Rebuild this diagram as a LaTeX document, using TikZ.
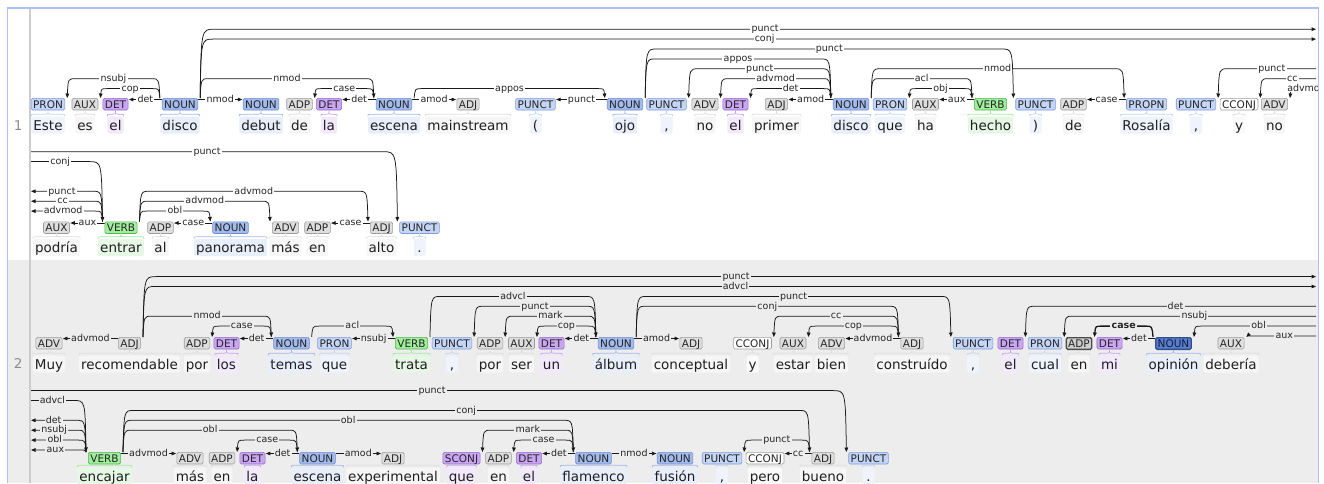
\documentclass[tikz,border=0pt]{standalone}
\usepackage{fontspec}
\setmainfont{DejaVu Sans}
\usetikzlibrary{arrows.meta,calc}
\pgfdeclarelayer{bg}\pgfdeclarelayer{arcs}
\pgfsetlayers{bg,arcs,main}

% tag palette: fill, border, light span tint
\definecolor{nounF}{HTML}{A2BAEC}\definecolor{nounD}{HTML}{6E8ED0}\definecolor{nounL}{HTML}{E8EEFA}
\definecolor{pronF}{HTML}{C4D5F6}\definecolor{pronD}{HTML}{7E9CDB}\definecolor{pronL}{HTML}{EEF3FC}
\definecolor{verbF}{HTML}{A0EE9C}\definecolor{verbD}{HTML}{52B452}\definecolor{verbL}{HTML}{E6F7E6}
\definecolor{detF}{HTML}{CAA6F2}\definecolor{detD}{HTML}{9468CC}\definecolor{detL}{HTML}{F2EAFC}
\definecolor{greyF}{HTML}{DEDEDE}\definecolor{greyD}{HTML}{9C9C9C}\definecolor{greyL}{HTML}{F6F6F6}
\definecolor{ccF}{HTML}{FFFFFF}\definecolor{ccD}{HTML}{9C9C9C}\definecolor{ccL}{HTML}{FAFAFA}
\definecolor{hlnF}{HTML}{5C7EC8}\definecolor{hlnD}{HTML}{2E4E94}\definecolor{hlnT}{HTML}{0E1E46}
\definecolor{hlgF}{HTML}{CDCDCD}\definecolor{hlgD}{HTML}{4C4C4C}
\definecolor{sgrey}{HTML}{EDEDED}
\definecolor{frameblue}{HTML}{A9C3F2}
\definecolor{numgrey}{HTML}{8C8C8C}

\newcommand\tagfont{\fontsize{10.5}{12}\selectfont}
\newcommand\wordfont{\fontsize{13.5}{16}\selectfont}
\newcommand\labfont{\fontsize{9.5}{11}\selectfont}
\def\labbg{white}
\def\redge{1316pt}
\def\ledge{31pt}

\tikzset{
  tag/.style={draw, rounded corners=1.5pt, font=\tagfont, inner xsep=2pt, inner ysep=2pt,
    text height=7.7pt, text depth=0pt, line width=0.6pt, text=black!85},
  word/.style={font=\wordfont, text height=13pt, text depth=3pt, inner xsep=2pt, inner ysep=0.5pt,
    rounded corners=2pt, minimum width=12pt, text=black!88},
  brk/.style={line width=0.7pt},
  lab/.style={font=\labfont, fill=\labbg, inner xsep=1.2pt, inner ysep=0.8pt,
    text height=5.5pt, text depth=0pt, text=black!85},
  deparc/.style={line width=0.75pt, draw=black!90, -{Triangle[length=4.5pt,width=3.6pt]}},
  hlarc/.style={line width=1.3pt},
  noun/.style={fill=nounF, draw=nounD}, nounw/.style={fill=nounL}, nounb/.style={draw=nounF},
  pron/.style={fill=pronF, draw=pronD}, pronw/.style={fill=pronL}, pronb/.style={draw=pronF},
  verb/.style={fill=verbF, draw=verbD}, verbw/.style={fill=verbL}, verbb/.style={draw=verbF},
  det/.style={fill=detF, draw=detD}, detw/.style={fill=detL}, detb/.style={draw=detF},
  grey/.style={fill=greyF, draw=greyD}, greyw/.style={fill=greyL}, greyb/.style={draw=greyF},
  cconj/.style={fill=ccF, draw=ccD}, cconjw/.style={fill=ccL}, cconjb/.style={draw=greyF},
  hlgrey/.style={fill=hlgF, draw=hlgD, line width=1.3pt}, hlgreyw/.style={fill=greyL}, hlgreyb/.style={draw=greyF},
  hlnoun/.style={fill=hlnF, draw=hlnD, line width=1.3pt, text=hlnT},
  hlnounw/.style={fill=nounL}, hlnounb/.style={draw=nounF},
}

% row geometry: tag top and word baseline
\def\rta{98}\def\rba{130}
\def\rtb{221.5}\def\rbb{252.5}
\def\rtc{337}\def\rbc{369}
\def\rtd{452}\def\rbd{481}

% token: name, x, row, style, tag, word
\newcommand\tok[6]{%
  \node[tag,#4,anchor=north] (#1) at (#2,-\csname rt#3\endcsname) {#5};
  \node[word,#4w,anchor=base] (#1w) at (#2,-\csname rb#3\endcsname) {#6};
  \draw[brk,#4b] let \p1=(#1w.north west), \p2=(#1w.north east), \p3=(#1.south) in
    (\x1,\y1) .. controls (\x1,\y1+2pt) .. (\x1+3pt,\y1+2pt) -- (\x3-3pt,\y1+2pt)
    .. controls (\x3,\y1+2pt) .. (\x3,\y3) .. controls (\x3,\y1+2pt) .. (\x3+3pt,\y1+2pt)
    -- (\x2-3pt,\y1+2pt) .. controls (\x2,\y1+2pt) .. (\x2,\y1);
}

% dependency arcs; \LZ is the base level of the current row
% dependent to the left of the head
\newcommand\depL[5][]{%
  \draw[deparc,#1] let \p1=(#2.north west), \p2=(#3.north east), \n1={\LZ-9.9*#4},
    \n2={6+0.12*(abs(\y1)-\n1)} in
    (\x1-2pt,\y1) .. controls (\x1-3pt,-\n1*1pt) .. (\x1-2pt-\n2*1pt,-\n1*1pt)
    -- node[lab]{#5} (\x2+2pt+\n2*1pt,-\n1*1pt) .. controls (\x2+3pt,-\n1*1pt) .. (\x2+2pt,\y2);
}
% dependent to the right of the head
\newcommand\depR[5][]{%
  \draw[deparc,#1] let \p1=(#2.north east), \p2=(#3.north west), \n1={\LZ-9.9*#4},
    \n2={6+0.12*(abs(\y1)-\n1)} in
    (\x1+2pt,\y1) .. controls (\x1+3pt,-\n1*1pt) .. (\x1+2pt+\n2*1pt,-\n1*1pt)
    -- node[lab]{#5} (\x2-2pt-\n2*1pt,-\n1*1pt) .. controls (\x2-3pt,-\n1*1pt) .. (\x2-2pt,\y2);
}
% lowest level, straight
\newcommand\zeroL[3]{%
  \draw[deparc] ($(#1.north west)+(0,-1.5pt)$) -- node[lab]{#3} ($(#2.north east)+(0.5pt,-1.5pt)$);
}
\newcommand\zeroR[3]{%
  \draw[deparc] ($(#1.north east)+(0,-1.5pt)$) -- node[lab]{#3} ($(#2.north west)+(-0.5pt,-1.5pt)$);
}
% arcs that continue on another row
\newcommand\crossR[3]{% head, level, label: runs off to the right
  \draw[deparc] let \p1=(#1.north east), \n1={\LZ-9.9*#2}, \n2={6+0.12*(abs(\y1)-\n1)} in
    (\x1+2pt,\y1) .. controls (\x1+3pt,-\n1*1pt) .. (\x1+2pt+\n2*1pt,-\n1*1pt)
    -- node[lab]{#3} (\redge,-\n1*1pt);
}
\newcommand\crossOutL[3]{% head, level, label: runs off to the left
  \draw[deparc] let \p1=(#1.north west), \n1={\LZ-9.9*#2}, \n2={6+0.12*(abs(\y1)-\n1)} in
    (\x1-2pt,\y1) .. controls (\x1-3pt,-\n1*1pt) .. (\x1-2pt-\n2*1pt,-\n1*1pt)
    -- node[lab]{#3} (\ledge,-\n1*1pt);
}
\newcommand\crossInR[3]{% dependent, level, label: comes in from the left
  \draw[deparc] let \p2=(#1.north west), \n1={\LZ-9.9*#2}, \n2={6+0.12*(abs(\y2)-\n1)} in
    (\ledge,-\n1*1pt) -- node[lab]{#3} (\x2-2pt-\n2*1pt,-\n1*1pt)
    .. controls (\x2-3pt,-\n1*1pt) .. (\x2-2pt,\y2);
}
\newcommand\crossInL[3]{% dependent, level, label: comes in from the right
  \draw[deparc] let \p2=(#1.north east), \n1={\LZ-9.9*#2}, \n2={6+0.12*(abs(\y2)-\n1)} in
    (\redge,-\n1*1pt) -- node[lab]{#3} (\x2+2pt+\n2*1pt,-\n1*1pt)
    .. controls (\x2+3pt,-\n1*1pt) .. (\x2+2pt,\y2);
}

\begin{document}
\begin{tikzpicture}[x=1pt,y=1pt]
\useasboundingbox (0,0) rectangle (1324,-483);

\begin{pgfonlayer}{bg}
  \fill[white] (0,0) rectangle (1324,-483);
  \fill[sgrey] (8,-260) rectangle (1318,-483);
  \draw[black!20, line width=1.5pt] (30,-8) -- (30,-483);
  \draw[frameblue, line width=1.5pt] (7.5,-483) -- (7.5,-8) -- (1318.5,-8) -- (1318.5,-483);
  \node[font=\wordfont, text=numgrey, anchor=base east] (n1) at (26,-130) {1};
  \node[font=\wordfont, text=numgrey, anchor=base east] (n2) at (26,-368.5) {2};
\end{pgfonlayer}

% sentence 1, first row
\tok{a1}{48}{a}{pron}{PRON}{Este}
\tok{a2}{85}{a}{grey}{AUX}{es}
\tok{a3}{115.5}{a}{det}{DET}{el}
\tok{a4}{180}{a}{noun}{NOUN}{disco}
\tok{a5}{261}{a}{noun}{NOUN}{debut}
\tok{a6}{299.5}{a}{grey}{ADP}{de}
\tok{a7}{329}{a}{det}{DET}{la}
\tok{a8}{394}{a}{noun}{NOUN}{escena}
\tok{a9}{468}{a}{grey}{ADJ}{mainstream}
\tok{a10}{535.5}{a}{pron}{PUNCT}{(}
\tok{a11}{625}{a}{noun}{NOUN}{ojo}
\tok{a12}{666.5}{a}{pron}{PUNCT}{,}
\tok{a13}{705}{a}{grey}{ADV}{no}
\tok{a14}{735.5}{a}{det}{DET}{el}
\tok{a15}{776.5}{a}{grey}{ADJ}{primer}
\tok{a16}{851}{a}{noun}{NOUN}{disco}
\tok{a17}{890}{a}{pron}{PRON}{que}
\tok{a18}{925.5}{a}{grey}{AUX}{ha}
\tok{a19}{990.5}{a}{verb}{VERB}{hecho}
\tok{a20}{1035.5}{a}{pron}{PUNCT}{)}
\tok{a21}{1073.5}{a}{grey}{ADP}{de}
\tok{a22}{1146.5}{a}{pron}{PROPN}{Rosalía}
\tok{a23}{1196}{a}{pron}{PUNCT}{,}
\tok{a24}{1239}{a}{cconj}{CCONJ}{y}
\tok{a25}{1274.5}{a}{grey}{ADV}{no}

% sentence 1, second row
\tok{b1}{56.5}{b}{grey}{AUX}{podría}
\tok{b2}{121}{b}{verb}{VERB}{entrar}
\tok{b3}{160.5}{b}{grey}{ADP}{al}
\tok{b4}{230.5}{b}{noun}{NOUN}{panorama}
\tok{b5}{285.5}{b}{grey}{ADV}{más}
\tok{b6}{317.5}{b}{grey}{ADP}{en}
\tok{b7}{381.5}{b}{grey}{ADJ}{alto}
\tok{b8}{419.5}{b}{pron}{PUNCT}{.}

% sentence 2, first row
\tok{c1}{49}{c}{grey}{ADV}{Muy}
\tok{c2}{129.5}{c}{grey}{ADJ}{recomendable}
\tok{c3}{197}{c}{grey}{ADP}{por}
\tok{c4}{226.5}{c}{det}{DET}{los}
\tok{c5}{291.5}{c}{noun}{NOUN}{temas}
\tok{c6}{334.5}{c}{pron}{PRON}{que}
\tok{c7}{411.5}{c}{verb}{VERB}{trata}
\tok{c8}{452}{c}{pron}{PUNCT}{,}
\tok{c9}{490}{c}{grey}{ADP}{por}
\tok{c10}{521.5}{c}{grey}{AUX}{ser}
\tok{c11}{551.5}{c}{det}{DET}{un}
\tok{c12}{616}{c}{noun}{NOUN}{álbum}
\tok{c13}{691}{c}{grey}{ADJ}{conceptual}
\tok{c14}{752.5}{c}{cconj}{CCONJ}{y}
\tok{c15}{793}{c}{grey}{AUX}{estar}
\tok{c16}{831.5}{c}{grey}{ADV}{bien}
\tok{c17}{912}{c}{grey}{ADJ}{construído}
\tok{c18}{973}{c}{pron}{PUNCT}{,}
\tok{c19}{1010.5}{c}{det}{DET}{el}
\tok{c20}{1045}{c}{pron}{PRON}{cual}
\tok{c21}{1079}{c}{hlgrey}{ADP}{en}
\tok{c22}{1109.5}{c}{det}{DET}{mi}
\tok{c23}{1173.5}{c}{hlnoun}{NOUN}{opinión}
\tok{c24}{1231}{c}{grey}{AUX}{debería}

% sentence 2, second row
\tok{d1}{104.5}{d}{verb}{VERB}{encajar}
\tok{d2}{190}{d}{grey}{ADV}{más}
\tok{d3}{222}{d}{grey}{ADP}{en}
\tok{d4}{252.5}{d}{det}{DET}{la}
\tok{d5}{317.5}{d}{noun}{NOUN}{escena}
\tok{d6}{393}{d}{grey}{ADJ}{experimental}
\tok{d7}{461.5}{d}{det}{SCONJ}{que}
\tok{d8}{498.5}{d}{grey}{ADP}{en}
\tok{d9}{529}{d}{det}{DET}{el}
\tok{d10}{593.5}{d}{noun}{NOUN}{flamenco}
\tok{d11}{675}{d}{noun}{NOUN}{fusión}
\tok{d12}{722}{d}{pron}{PUNCT}{,}
\tok{d13}{765}{d}{cconj}{CCONJ}{pero}
\tok{d14}{823}{d}{grey}{ADJ}{bueno}
\tok{d15}{868.5}{d}{pron}{PUNCT}{.}

\begin{pgfonlayer}{arcs}
\begin{scope}
\clip (29,0) rectangle (1317.5,-483);

% sentence 1, first row
\def\LZ{98.5}\def\labbg{white}
\depL{a4}{a1}{2}{nsubj}
\depL{a4}{a2}{1}{cop}
\zeroL{a4}{a3}{det}
\crossR{a4}{7}{punct}
\crossR{a4}{6}{conj}
\zeroR{a4}{a5}{nmod}
\depR{a4}{a8}{2}{nmod}
\depL{a8}{a6}{1}{case}
\zeroL{a8}{a7}{det}
\zeroR{a8}{a9}{amod}
\depR{a8}{a11}{1}{appos}
\zeroL{a11}{a10}{punct}
\depR{a11}{a20}{5}{punct}
\depR{a11}{a16}{4}{appos}
\depL{a16}{a12}{3}{punct}
\depL{a16}{a13}{2}{advmod}
\depL{a16}{a14}{1}{det}
\zeroL{a16}{a15}{amod}
\depR{a16}{a22}{3}{nmod}
\depR{a16}{a19}{2}{acl}
\depL{a19}{a17}{1}{obj}
\zeroL{a19}{a18}{aux}
\zeroL{a22}{a21}{case}
\crossInL{a23}{3}{punct}
\crossInL{a24}{2}{cc}
\crossInL{a25}{1}{advmod}

% sentence 1, second row
\def\LZ{221}
\crossInR{b8}{7}{punct}
\crossInR{b2}{6}{conj}
\crossOutL{b2}{3}{punct}
\crossOutL{b2}{2}{cc}
\crossOutL{b2}{1}{advmod}
\zeroL{b2}{b1}{aux}
\depR{b2}{b7}{3}{advmod}
\depR{b2}{b5}{2}{advmod}
\depR{b2}{b4}{1}{obl}
\zeroL{b4}{b3}{case}
\zeroL{b7}{b6}{case}

% sentence 2, first row
\def\LZ{336}\def\labbg{sgrey}
\zeroL{c2}{c1}{advmod}
\crossR{c2}{6}{punct}
\crossR{c2}{5}{advcl}
\depR{c2}{c5}{2}{nmod}
\depL{c5}{c3}{1}{case}
\zeroL{c5}{c4}{det}
\depR{c5}{c7}{1}{acl}
\zeroL{c7}{c6}{nsubj}
\depR{c7}{c12}{4}{advcl}
\depL{c12}{c8}{3}{punct}
\depL{c12}{c9}{2}{mark}
\depL{c12}{c10}{1}{cop}
\zeroL{c12}{c11}{det}
\zeroR{c12}{c13}{amod}
\depR{c12}{c18}{4}{punct}
\depR{c12}{c17}{3}{conj}
\depL{c17}{c14}{2}{cc}
\depL{c17}{c15}{1}{cop}
\zeroL{c17}{c16}{advmod}
\crossInL{c19}{3}{det}
\crossInL{c20}{2}{nsubj}
\crossInL{c23}{1}{obl}
\crossInL{c24}{0}{aux}
\depL[hlarc]{c23}{c21}{1}{\textbf{case}}
\zeroL{c23}{c22}{det}

% sentence 2, second row
\def\LZ{450}
\crossInR{d1}{5}{advcl}
\crossInR{d15}{6}{punct}
\crossOutL{d1}{3}{det}
\crossOutL{d1}{2}{nsubj}
\crossOutL{d1}{1}{obl}
\crossOutL{d1}{0}{aux}
\zeroR{d1}{d2}{advmod}
\depR{d1}{d14}{4}{conj}
\depR{d1}{d10}{3}{obl}
\depR{d1}{d5}{2}{obl}
\depL{d5}{d3}{1}{case}
\zeroL{d5}{d4}{det}
\zeroR{d5}{d6}{amod}
\depL{d10}{d7}{2}{mark}
\depL{d10}{d8}{1}{case}
\zeroL{d10}{d9}{det}
\zeroR{d10}{d11}{nmod}
\depL{d14}{d12}{1}{punct}
\zeroL{d14}{d13}{cc}
\end{scope}
\end{pgfonlayer}
\end{tikzpicture}
\end{document}
